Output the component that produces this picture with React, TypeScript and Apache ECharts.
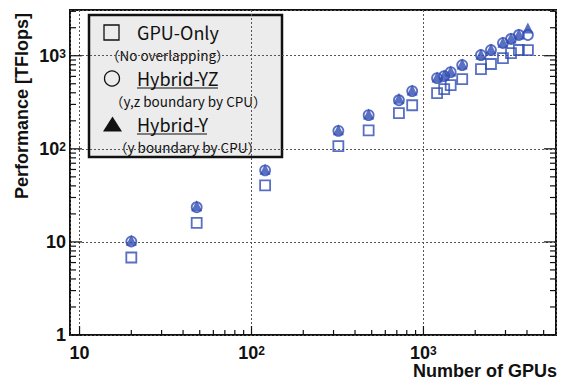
import React, { useEffect, useRef } from "react";
import * as echarts from "echarts";

// ---- data ----
const gpuCounts = [20, 48, 120, 320, 480, 720, 860, 1200, 1320, 1440, 1680, 2160, 2470, 2900, 3230, 3590, 4050];
const gpuOnly = [6.8, 16.0, 40.4, 107, 158, 242, 294, 396, 437, 483, 561, 719, 815, 945, 1069, 1152, 1150];
const hybridYZ = [10.1, 23.6, 58.7, 156, 230, 333, 417, 575, 604, 667, 794, 1017, 1152, 1370, 1514, 1671, 1671];
const hybridY = [10.4, 24.4, 60.5, 160, 236, 350, 428, 590, 620, 685, 815, 1040, 1180, 1400, 1550, 1710, 1990];

const xMajorTicks = [10, 100, 1000];
const xMinorTicks = [20, 30, 40, 50, 60, 70, 80, 90, 200, 300, 400, 500, 600, 700, 800, 900, 2000, 3000, 4000, 5000];
const yMajorTicks = [1, 10, 100, 1000];
const yMinorTicks = [2, 3, 4, 5, 6, 7, 8, 9, 20, 30, 40, 50, 60, 70, 80, 90, 200, 300, 400, 500, 600, 700, 800, 900, 2000, 3000];

const X_MIN = 8.8;
const X_MAX = 5900;
const Y_MIN = 1;
const Y_MAX = 3100;

const BLUE = "#2f4bb3";
const AXIS_FONT = "'Liberation Sans', Arial, sans-serif";
const LEG_FONT = "'Noto Sans CJK JP', 'Noto Sans', sans-serif";

const isPow10 = (v: number) => Math.abs(Math.log10(v) - Math.round(Math.log10(v))) < 1e-6;

const labelFormatter = (v: number) => {
  if (!isPow10(v)) return "";
  const e = Math.round(Math.log10(v));
  if (e === 0) return "{b|1}";
  if (e === 1) return "{b|10}";
  return `{b|10}{s|${e}}`;
};

const labelRich = {
  b: { fontSize: 18, fontWeight: "bold", fontFamily: AXIS_FONT, color: "#111", lineHeight: 16 },
  s: { fontSize: 12, fontWeight: "bold", fontFamily: AXIS_FONT, color: "#111", lineHeight: 10, verticalAlign: "top" },
};

function tickSeries(data: number[][], side: "bottom" | "left" | "right") {
  return {
    type: "custom",
    silent: true,
    clip: false,
    z: 5,
    data,
    renderItem: (_params: any, api: any) => {
      const xv = api.value(0);
      const yv = api.value(1);
      const p = api.coord([xv, yv]);
      let x2 = p[0];
      let y2 = p[1];
      if (side === "bottom") y2 = p[1] - (isPow10(xv) ? 9 : 5);
      else if (side === "left") x2 = p[0] + (isPow10(yv) ? 12 : 6);
      else x2 = p[0] - (isPow10(yv) ? 12 : 6);
      return {
        type: "line",
        shape: { x1: p[0], y1: p[1], x2, y2 },
        style: { stroke: "#111", lineWidth: 1.2 },
      };
    },
  };
}

export default function App() {
  const ref = useRef<HTMLDivElement>(null);

  useEffect(() => {
    if (!ref.current) return;
    const chart = echarts.init(ref.current, undefined, { renderer: "svg" });

    const xTickData = [...xMajorTicks, ...xMinorTicks].map((v) => [v, Y_MIN]);
    const yLeftData = [...yMajorTicks, ...yMinorTicks].map((v) => [X_MIN, v]);
    const yRightData = [...yMajorTicks, ...yMinorTicks].map((v) => [X_MAX, v]);

    const legendText = (x: number, y: number, text: string, size: number) => ({
      type: "text",
      x,
      y,
      style: {
        text,
        fontFamily: LEG_FONT,
        fontSize: size,
        lineHeight: size,
        fill: "#111",
        align: "left",
        verticalAlign: "middle",
      },
    });

    chart.setOption({
      animation: false,
      backgroundColor: "#ffffff",
      grid: {
        left: 70,
        right: 12,
        top: 10,
        bottom: 45,
        show: true,
        borderColor: "#111",
        borderWidth: 2,
        backgroundColor: "transparent",
      },
      xAxis: {
        type: "log",
        logBase: 10,
        min: X_MIN,
        max: X_MAX,
        axisLine: { show: false },
        axisTick: { show: false },
        splitLine: { show: true, lineStyle: { type: [2, 2], color: "#555", width: 1 } },
        axisLabel: { margin: 10, formatter: labelFormatter, rich: labelRich },
      },
      yAxis: {
        type: "log",
        logBase: 10,
        min: Y_MIN,
        max: Y_MAX,
        axisLine: { show: false },
        axisTick: { show: false },
        splitLine: { show: true, lineStyle: { type: [2, 2], color: "#555", width: 1 } },
        axisLabel: { margin: 4, formatter: labelFormatter, rich: labelRich },
      },
      series: [
        {
          name: "GPU-Only",
          type: "scatter",
          symbol: "rect",
          symbolSize: 10,
          data: gpuCounts.map((g, i) => [g, gpuOnly[i]]),
          itemStyle: { color: "rgba(255,255,255,0)", borderColor: BLUE, borderWidth: 1.8 },
          z: 3,
        },
        {
          name: "Hybrid-YZ",
          type: "scatter",
          symbol: "circle",
          symbolSize: 10,
          data: gpuCounts.map((g, i) => [g, hybridYZ[i]]),
          itemStyle: { color: "rgba(255,255,255,0)", borderColor: BLUE, borderWidth: 1.8 },
          z: 3,
        },
        {
          name: "Hybrid-Y",
          type: "scatter",
          symbol: "triangle",
          symbolSize: 11,
          data: gpuCounts.map((g, i) => [g, hybridY[i]]),
          itemStyle: { color: BLUE },
          z: 4,
        },
        tickSeries(xTickData, "bottom"),
        tickSeries(yLeftData, "left"),
        tickSeries(yRightData, "right"),
      ],
      graphic: [
        {
          type: "text",
          x: 22,
          y: 13,
          rotation: Math.PI / 2,
          style: {
            text: "Performance [TFlops]",
            fontFamily: AXIS_FONT,
            fontWeight: "bold",
            fontSize: 18,
            lineHeight: 16,
            fill: "#111",
            align: "right",
            verticalAlign: "middle",
          },
        },
        {
          type: "text",
          x: 557,
          y: 371,
          style: {
            text: "Number of GPUs",
            fontFamily: AXIS_FONT,
            fontWeight: "bold",
            fontSize: 18,
            lineHeight: 16,
            fill: "#111",
            align: "right",
            verticalAlign: "middle",
          },
        },
        {
          type: "group",
          z: 100,
          children: [
            {
              type: "rect",
              shape: { x: 89, y: 15, width: 193, height: 142 },
              style: { fill: "#ececec", stroke: "#111", lineWidth: 2.5 },
            },
            { type: "rect", shape: { x: 104, y: 25, width: 15, height: 15 }, style: { fill: "none", stroke: "#111", lineWidth: 1.3 } },
            legendText(137, 32, "GPU-Only", 18),
            legendText(106, 55, "（No overlapping）", 13.5),
            { type: "circle", shape: { cx: 112, cy: 78.5, r: 7.5 }, style: { fill: "none", stroke: "#111", lineWidth: 1.3 } },
            legendText(137, 78, "Hybrid-YZ", 18),
            { type: "line", shape: { x1: 137, y1: 88, x2: 218, y2: 88 }, style: { stroke: "#111", lineWidth: 1.2 } },
            legendText(110, 101, "（y,z boundary by CPU）", 13.5),
            { type: "polygon", shape: { points: [[112.5, 116.5], [103, 131.5], [122, 131.5]] }, style: { fill: "#111" } },
            legendText(137, 124, "Hybrid-Y", 18),
            { type: "line", shape: { x1: 137, y1: 134, x2: 207, y2: 134 }, style: { stroke: "#111", lineWidth: 1.2 } },
            legendText(114, 147, "（y boundary by CPU）", 13.5),
          ],
        },
      ],
    });

    return () => chart.dispose();
  }, []);

  return <div ref={ref} style={{ position: "fixed", left: 0, top: 0, width: 568, height: 380 }} />;
}
